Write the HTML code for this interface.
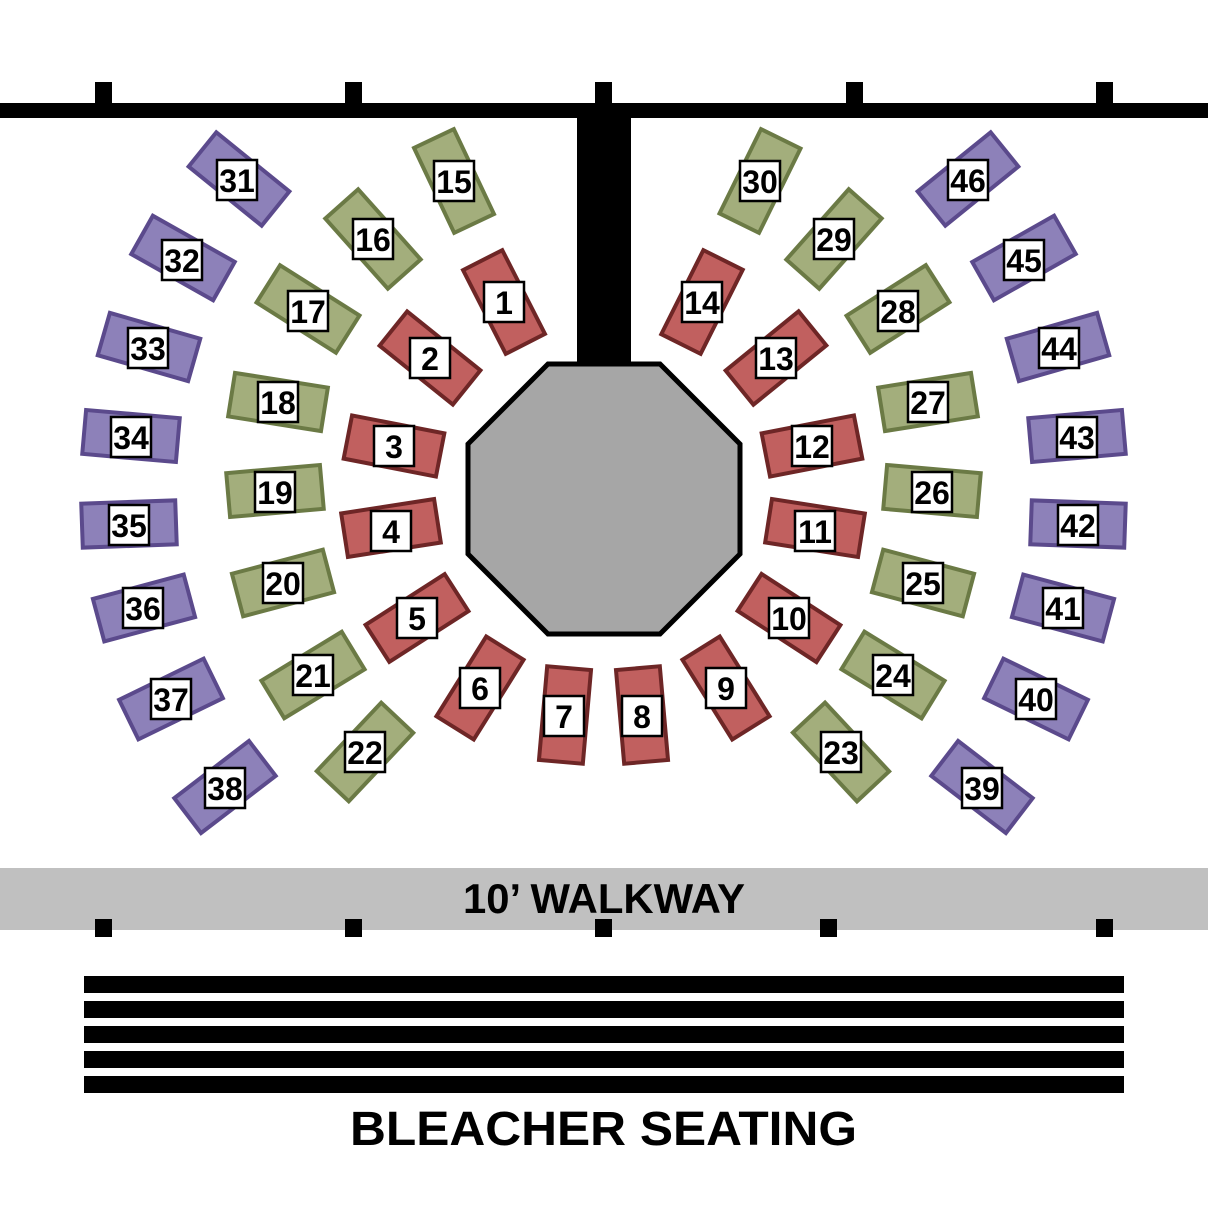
<!DOCTYPE html>
<html><head><meta charset="utf-8"><style>
html,body{margin:0;padding:0;background:#fff;}
svg{display:block;}
text{font-family:"Liberation Sans",Arial,sans-serif;font-weight:bold;}
.r rect.t{fill:#c1605f;stroke:#6e2626;stroke-width:4;}
.g rect.t{fill:#a3ae7c;stroke:#6b7a45;stroke-width:4;}
.p rect.t{fill:#8d81b9;stroke:#5b4a8c;stroke-width:4;}
rect.l{fill:#fff;stroke:#000;stroke-width:2.5;}
text.n{font-size:32px;text-anchor:middle;}
</style></head><body>
<svg width="1208" height="1208" viewBox="0 0 1208 1208" xmlns="http://www.w3.org/2000/svg">
<rect x="0" y="103" width="1208" height="15" fill="#000"/>
<rect x="95" y="82" width="17" height="22" fill="#000"/>
<rect x="345" y="82" width="17" height="22" fill="#000"/>
<rect x="595" y="82" width="17" height="22" fill="#000"/>
<rect x="846" y="82" width="17" height="22" fill="#000"/>
<rect x="1096" y="82" width="17" height="22" fill="#000"/>
<rect x="577" y="110" width="54" height="255" fill="#000"/>
<polygon points="548,364 660,364 740,444 740,554 660,634 548,634 468,554 468,444" fill="#a6a6a6" stroke="#000" stroke-width="5"/>
<g class="r">
<g transform="translate(504,302) rotate(63)"><rect class="t" x="-47" y="-22" width="94" height="44"/></g>
<g transform="translate(430,358) rotate(38.8)"><rect class="t" x="-47" y="-22" width="94" height="44"/></g>
<g transform="translate(394,446) rotate(11)"><rect class="t" x="-47" y="-22" width="94" height="44"/></g>
<g transform="translate(391,528) rotate(-8.8)"><rect class="t" x="-47" y="-22" width="94" height="44"/></g>
<g transform="translate(417,618) rotate(-32.7)"><rect class="t" x="-47" y="-22" width="94" height="44"/></g>
<g transform="translate(480,688) rotate(-58)"><rect class="t" x="-47" y="-22" width="94" height="44"/></g>
<g transform="translate(565,715) rotate(-85)"><rect class="t" x="-47" y="-22" width="94" height="44"/></g>
<g transform="translate(642,715) rotate(85)"><rect class="t" x="-47" y="-22" width="94" height="44"/></g>
<g transform="translate(726,688) rotate(58)"><rect class="t" x="-47" y="-22" width="94" height="44"/></g>
<g transform="translate(789,618) rotate(33)"><rect class="t" x="-47" y="-22" width="94" height="44"/></g>
<g transform="translate(815,528) rotate(8.9)"><rect class="t" x="-47" y="-22" width="94" height="44"/></g>
<g transform="translate(812,446) rotate(-11)"><rect class="t" x="-47" y="-22" width="94" height="44"/></g>
<g transform="translate(776,358) rotate(-39.1)"><rect class="t" x="-47" y="-22" width="94" height="44"/></g>
<g transform="translate(702,302) rotate(-63.4)"><rect class="t" x="-47" y="-22" width="94" height="44"/></g>
</g>
<g class="g">
<g transform="translate(454,181) rotate(64.7)"><rect class="t" x="-47" y="-22" width="94" height="44"/></g>
<g transform="translate(373,239) rotate(48.3)"><rect class="t" x="-47" y="-22" width="94" height="44"/></g>
<g transform="translate(308,309) rotate(32.3)"><rect class="t" x="-47" y="-22" width="94" height="44"/></g>
<g transform="translate(278,402) rotate(9)"><rect class="t" x="-47" y="-22" width="94" height="44"/></g>
<g transform="translate(275,491) rotate(-5)"><rect class="t" x="-47" y="-22" width="94" height="44"/></g>
<g transform="translate(283,583) rotate(-14.8)"><rect class="t" x="-47" y="-22" width="94" height="44"/></g>
<g transform="translate(313,675) rotate(-31.3)"><rect class="t" x="-47" y="-22" width="94" height="44"/></g>
<g transform="translate(365,752) rotate(-46.7)"><rect class="t" x="-47" y="-22" width="94" height="44"/></g>
<g transform="translate(841,752) rotate(47)"><rect class="t" x="-47" y="-22" width="94" height="44"/></g>
<g transform="translate(893,675) rotate(31.5)"><rect class="t" x="-47" y="-22" width="94" height="44"/></g>
<g transform="translate(923,583) rotate(14.9)"><rect class="t" x="-47" y="-22" width="94" height="44"/></g>
<g transform="translate(932,491) rotate(5)"><rect class="t" x="-47" y="-22" width="94" height="44"/></g>
<g transform="translate(928,402) rotate(-9)"><rect class="t" x="-47" y="-22" width="94" height="44"/></g>
<g transform="translate(898,309) rotate(-32.5)"><rect class="t" x="-47" y="-22" width="94" height="44"/></g>
<g transform="translate(834,239) rotate(-48.4)"><rect class="t" x="-47" y="-22" width="94" height="44"/></g>
<g transform="translate(760,181) rotate(-63.8)"><rect class="t" x="-47" y="-22" width="94" height="44"/></g>
</g>
<g class="p">
<g transform="translate(239,179) rotate(39)"><rect class="t" x="-47" y="-22" width="94" height="44"/></g>
<g transform="translate(183,258) rotate(29.4)"><rect class="t" x="-47" y="-22" width="94" height="44"/></g>
<g transform="translate(149,347) rotate(16)"><rect class="t" x="-47" y="-22" width="94" height="44"/></g>
<g transform="translate(131,436) rotate(5)"><rect class="t" x="-47" y="-22" width="94" height="44"/></g>
<g transform="translate(129,524) rotate(-2)"><rect class="t" x="-47" y="-22" width="94" height="44"/></g>
<g transform="translate(144,608) rotate(-15)"><rect class="t" x="-47" y="-22" width="94" height="44"/></g>
<g transform="translate(171,699) rotate(-26)"><rect class="t" x="-47" y="-22" width="94" height="44"/></g>
<g transform="translate(225,787) rotate(-37.4)"><rect class="t" x="-47" y="-22" width="94" height="44"/></g>
<g transform="translate(982,787) rotate(37.5)"><rect class="t" x="-47" y="-22" width="94" height="44"/></g>
<g transform="translate(1036,699) rotate(26)"><rect class="t" x="-47" y="-22" width="94" height="44"/></g>
<g transform="translate(1063,608) rotate(15)"><rect class="t" x="-47" y="-22" width="94" height="44"/></g>
<g transform="translate(1078,524) rotate(2)"><rect class="t" x="-47" y="-22" width="94" height="44"/></g>
<g transform="translate(1077,436) rotate(-5)"><rect class="t" x="-47" y="-22" width="94" height="44"/></g>
<g transform="translate(1058,347) rotate(-16)"><rect class="t" x="-47" y="-22" width="94" height="44"/></g>
<g transform="translate(1024,258) rotate(-29.5)"><rect class="t" x="-47" y="-22" width="94" height="44"/></g>
<g transform="translate(968,179) rotate(-39)"><rect class="t" x="-47" y="-22" width="94" height="44"/></g>
</g>
<g>
<rect class="l" x="484" y="282" width="40" height="40"/><text class="n" x="504" y="314">1</text>
<rect class="l" x="410" y="338" width="40" height="40"/><text class="n" x="430" y="370">2</text>
<rect class="l" x="374" y="426" width="40" height="40"/><text class="n" x="394" y="458">3</text>
<rect class="l" x="371" y="511" width="40" height="40"/><text class="n" x="391" y="543">4</text>
<rect class="l" x="397" y="598" width="40" height="40"/><text class="n" x="417" y="630">5</text>
<rect class="l" x="460" y="668" width="40" height="40"/><text class="n" x="480" y="700">6</text>
<rect class="l" x="544" y="696" width="40" height="40"/><text class="n" x="564" y="728">7</text>
<rect class="l" x="622" y="696" width="40" height="40"/><text class="n" x="642" y="728">8</text>
<rect class="l" x="706" y="668" width="40" height="40"/><text class="n" x="726" y="700">9</text>
<rect class="l" x="769" y="598" width="40" height="40"/><text class="n" x="789" y="630">10</text>
<rect class="l" x="795" y="511" width="40" height="40"/><text class="n" x="815" y="543">11</text>
<rect class="l" x="792" y="426" width="40" height="40"/><text class="n" x="812" y="458">12</text>
<rect class="l" x="756" y="338" width="40" height="40"/><text class="n" x="776" y="370">13</text>
<rect class="l" x="682" y="282" width="40" height="40"/><text class="n" x="702" y="314">14</text>
<rect class="l" x="434" y="161" width="40" height="40"/><text class="n" x="454" y="193">15</text>
<rect class="l" x="353" y="219" width="40" height="40"/><text class="n" x="373" y="251">16</text>
<rect class="l" x="288" y="291" width="40" height="40"/><text class="n" x="308" y="323">17</text>
<rect class="l" x="258" y="382" width="40" height="40"/><text class="n" x="278" y="414">18</text>
<rect class="l" x="255" y="472" width="40" height="40"/><text class="n" x="275" y="504">19</text>
<rect class="l" x="263" y="563" width="40" height="40"/><text class="n" x="283" y="595">20</text>
<rect class="l" x="293" y="655" width="40" height="40"/><text class="n" x="313" y="687">21</text>
<rect class="l" x="345" y="732" width="40" height="40"/><text class="n" x="365" y="764">22</text>
<rect class="l" x="821" y="732" width="40" height="40"/><text class="n" x="841" y="764">23</text>
<rect class="l" x="873" y="655" width="40" height="40"/><text class="n" x="893" y="687">24</text>
<rect class="l" x="903" y="563" width="40" height="40"/><text class="n" x="923" y="595">25</text>
<rect class="l" x="912" y="472" width="40" height="40"/><text class="n" x="932" y="504">26</text>
<rect class="l" x="908" y="382" width="40" height="40"/><text class="n" x="928" y="414">27</text>
<rect class="l" x="878" y="291" width="40" height="40"/><text class="n" x="898" y="323">28</text>
<rect class="l" x="814" y="219" width="40" height="40"/><text class="n" x="834" y="251">29</text>
<rect class="l" x="740" y="161" width="40" height="40"/><text class="n" x="760" y="193">30</text>
<rect class="l" x="217" y="160" width="40" height="40"/><text class="n" x="237" y="192">31</text>
<rect class="l" x="162" y="240" width="40" height="40"/><text class="n" x="182" y="272">32</text>
<rect class="l" x="128" y="328" width="40" height="40"/><text class="n" x="148" y="360">33</text>
<rect class="l" x="111" y="417" width="40" height="40"/><text class="n" x="131" y="449">34</text>
<rect class="l" x="109" y="505" width="40" height="40"/><text class="n" x="129" y="537">35</text>
<rect class="l" x="123" y="588" width="40" height="40"/><text class="n" x="143" y="620">36</text>
<rect class="l" x="151" y="679" width="40" height="40"/><text class="n" x="171" y="711">37</text>
<rect class="l" x="205" y="768" width="40" height="40"/><text class="n" x="225" y="800">38</text>
<rect class="l" x="962" y="768" width="40" height="40"/><text class="n" x="982" y="800">39</text>
<rect class="l" x="1016" y="679" width="40" height="40"/><text class="n" x="1036" y="711">40</text>
<rect class="l" x="1043" y="588" width="40" height="40"/><text class="n" x="1063" y="620">41</text>
<rect class="l" x="1058" y="505" width="40" height="40"/><text class="n" x="1078" y="537">42</text>
<rect class="l" x="1057" y="417" width="40" height="40"/><text class="n" x="1077" y="449">43</text>
<rect class="l" x="1039" y="328" width="40" height="40"/><text class="n" x="1059" y="360">44</text>
<rect class="l" x="1004" y="240" width="40" height="40"/><text class="n" x="1024" y="272">45</text>
<rect class="l" x="948" y="160" width="40" height="40"/><text class="n" x="968" y="192">46</text>
</g>
<rect x="0" y="868" width="1208" height="62" fill="#c0c0c0"/>
<text x="463" y="913" font-size="42" textLength="282" lengthAdjust="spacingAndGlyphs">10’ WALKWAY</text>
<rect x="95" y="919" width="17" height="18" fill="#000"/>
<rect x="345" y="919" width="17" height="18" fill="#000"/>
<rect x="595" y="919" width="17" height="18" fill="#000"/>
<rect x="820" y="919" width="17" height="18" fill="#000"/>
<rect x="1096" y="919" width="17" height="18" fill="#000"/>
<rect x="84" y="976" width="1040" height="17" fill="#000"/>
<rect x="84" y="1001" width="1040" height="17" fill="#000"/>
<rect x="84" y="1026" width="1040" height="17" fill="#000"/>
<rect x="84" y="1051" width="1040" height="17" fill="#000"/>
<rect x="84" y="1076" width="1040" height="17" fill="#000"/>
<text x="350" y="1145" font-size="48" textLength="507" lengthAdjust="spacingAndGlyphs">BLEACHER SEATING</text>
</svg>
</body></html>
